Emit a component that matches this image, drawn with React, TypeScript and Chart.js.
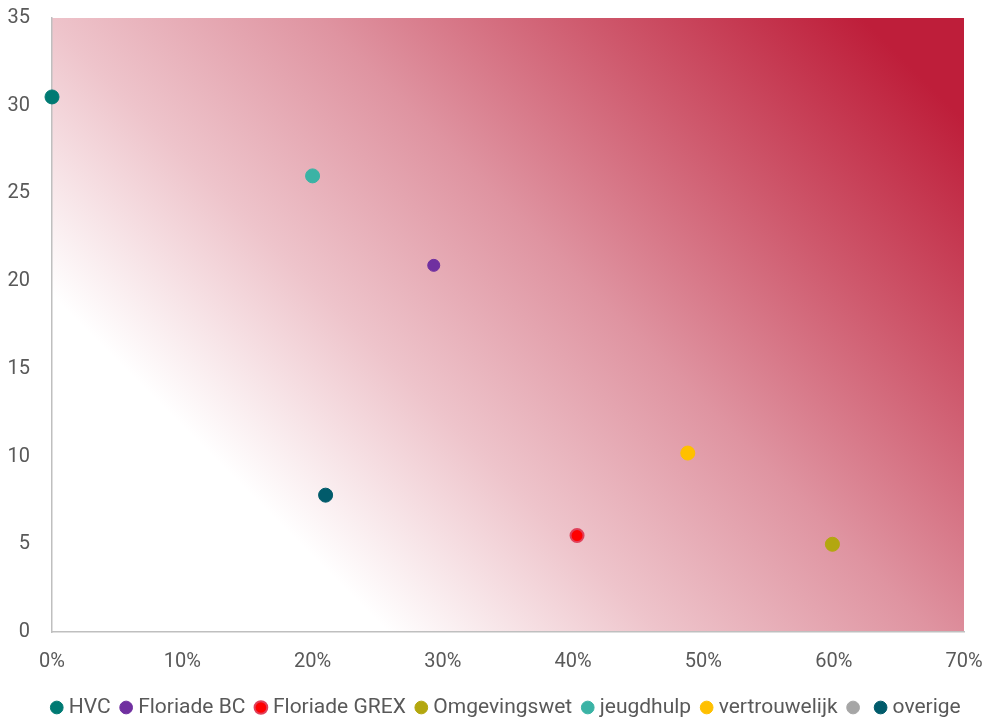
import React, { useEffect, useRef } from "react";
import { Chart, registerables } from "chart.js";

Chart.register(...registerables);

// ---- data ----
const seriesNames = ["HVC", "Floriade BC", "Floriade GREX", "Omgevingswet", "jeugdhulp", "vertrouwelijk", "", "overige"];
const seriesX: (number | null)[] = [0, 29.3, 40.3, 59.9, 20.0, 48.8, null, 21.0];
const seriesY: (number | null)[] = [30.5, 20.9, 5.5, 5.0, 26.0, 10.2, null, 7.8];
const seriesColors = ["#007A73", "#7030A0", "#FF0000", "#B3A70F", "#3BB3A5", "#FFC000", "#A6A6A6", "#015B6B"];
const seriesBorders = ["#007A73", "#7030A0", "#E0405A", "#B3A70F", "#3BB3A5", "#FFC000", "#A6A6A6", "#015B6B"];
const seriesRadius = [7, 6, 6.5, 7, 7, 7, 7, 7];
const xTickValues = [0, 10, 20, 30, 40, 50, 60, 70];
const yTickValues = [0, 5, 10, 15, 20, 25, 30, 35];

const FONT = "Roboto, 'DejaVu Sans', sans-serif";
const TEXT = "#595959";

const bgPlugin = {
  id: "plotGradient",
  beforeDraw(chart: any) {
    const { ctx, chartArea: a } = chart;
    if (!a) return;
    const g = ctx.createLinearGradient(a.left, a.top + 278, a.left + 544, a.top - 266);
    g.addColorStop(0, "#FFFFFF");
    g.addColorStop(0.25, "#EEC4CB");
    g.addColorStop(0.5, "#DF94A1");
    g.addColorStop(0.75, "#CE586C");
    g.addColorStop(1, "#BE1E3A");
    ctx.save();
    ctx.fillStyle = g;
    ctx.fillRect(a.left, a.top, a.right - a.left, a.bottom - a.top);
    ctx.restore();
  },
};

// centre the legend under the plot area rather than the whole canvas
const legendShift = {
  id: "legendShift",
  afterLayout(chart: any) {
    const lg = chart.legend;
    const a = chart.chartArea;
    if (!lg || !a) return;
    const shift = (a.left + a.right) / 2 - (lg.left + lg.right) / 2;
    lg.left += shift;
    lg.right += shift;
  },
};

export default function App() {
  const ref = useRef<HTMLCanvasElement | null>(null);
  useEffect(() => {
    if (!ref.current) return;
    const datasets = seriesNames.map((name, i) => ({
      label: name,
      data: seriesX[i] === null ? [] : [{ x: seriesX[i] as number, y: seriesY[i] as number }],
      backgroundColor: seriesColors[i],
      borderColor: seriesBorders[i],
      borderWidth: i === 2 ? 2 : 1,
      pointRadius: seriesRadius[i],
      pointHoverRadius: seriesRadius[i],
      pointStyle: "circle" as const,
      clip: false as const,
    }));
    const chart = new Chart(ref.current, {
      type: "scatter",
      data: { datasets },
      plugins: [bgPlugin, legendShift],
      options: {
        animation: false,
        responsive: true,
        maintainAspectRatio: false,
        layout: { padding: { top: 18, left: 8, right: 22, bottom: 0 } },
        plugins: {
          tooltip: { enabled: false },
          legend: {
            position: "bottom",
            labels: {
              usePointStyle: true,
              boxWidth: 3,
              boxHeight: 9,
              padding: 14,
              color: TEXT,
              font: { family: FONT, size: 21 },
            },
          },
        },
        scales: {
          x: {
            type: "linear",
            min: 0,
            max: 70,
            afterBuildTicks: (s: any) => { s.ticks = xTickValues.map((v) => ({ value: v })); },
            afterFit: (s: any) => {
              s.paddingLeft = 0; s.paddingRight = 0; s.height = 51;
            },
            ticks: {
              color: TEXT,
              font: { family: FONT, size: 20 },
              padding: 18,
              callback: (v: any) => v + "%",
            },
            grid: { display: false, drawTicks: false },
            border: { display: true, color: "#BFBFBF", width: 1.5 },
          },
          y: {
            type: "linear",
            min: 0,
            max: 35,
            afterBuildTicks: (s: any) => { s.ticks = yTickValues.map((v) => ({ value: v })); },
            afterFit: (s: any) => {
              s.paddingTop = 0; s.paddingBottom = 0; s.width = 44;
            },
            ticks: {
              color: TEXT,
              font: { family: FONT, size: 20 },
              padding: 22,
            },
            grid: { display: false, drawTicks: false },
            border: { display: true, color: "#BFBFBF", width: 1.5 },
          },
        },
      },
    });
    return () => chart.destroy();
  }, []);
  return (
    <div style={{ position: "fixed", left: 0, top: 0, width: 986, height: 728, background: "#fff" }}>
      <canvas ref={ref} />
    </div>
  );
}
